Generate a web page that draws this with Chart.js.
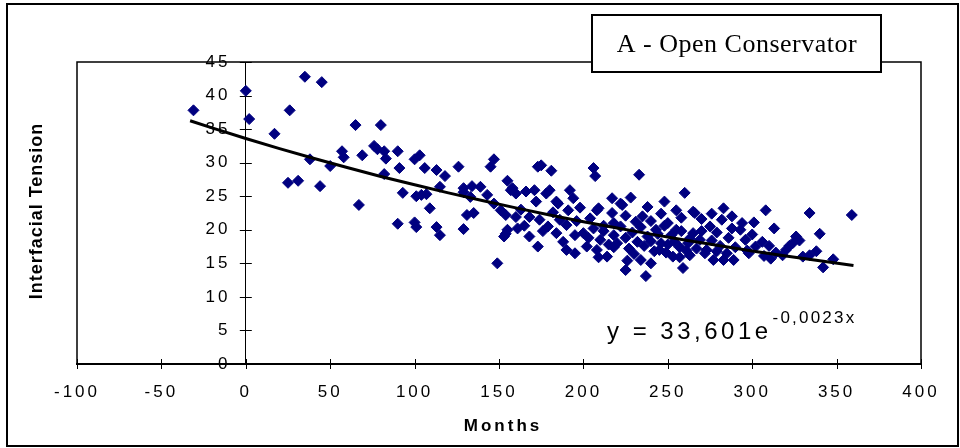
<!DOCTYPE html>
<html>
<head>
<meta charset="utf-8">
<script src="https://cdn.jsdelivr.net/npm/chart.js@4"></script>
<style>
  html, body { margin: 0; padding: 0; background: #fff; }
  #wrap { width: 960px; height: 448px; position: relative; }
</style>
</head>
<body>
<div id="wrap"><canvas id="c" width="960" height="448"></canvas></div>
<script>
// ---- data ----
const months = [
  -31, 0, 2, 17, 26, 25, 31, 35, 38, 45, 44, 50, 57, 58, 65, 67, 69, 76, 78, 80,
  82, 83, 82, 90, 91, 93, 90, 100, 101, 101, 100, 103,
  106, 113, 118, 126, 107, 104, 109, 115, 129, 134, 139, 133, 143, 131, 135, 129, 113, 115,
  147, 145, 149, 147, 129,
  155, 157, 160, 151, 154, 160, 155, 153, 161, 166, 171, 173, 175, 181, 172, 178, 184, 168,
  174, 179, 168, 173, 184, 190, 192, 194, 191, 195, 190, 195, 188, 154, 158, 180, 185, 198,
  163, 186, 176, 196, 182, 165,
  206, 207, 233, 260, 255, 266, 283, 282, 275, 209, 217, 223, 217, 225, 231, 218, 204, 208,
  222, 265, 235, 240, 246, 250, 258, 270, 276, 288, 228, 238, 248, 212,
  243, 255, 263, 200, 203, 206, 210, 212, 215, 218, 220, 222, 225, 227, 229, 232, 234, 236,
  238, 240, 242, 244, 246, 248, 250, 252, 254, 257, 258, 261, 262, 265, 267, 270, 272, 276,
  279, 281, 286, 288, 290, 269, 273,
  225, 237, 234, 240, 259, 253, 245, 214, 208, 202, 277, 283, 285, 209, 226, 257, 249, 230,
  218, 263, 279,
  308, 334, 359, 301, 294, 293, 340, 326, 324, 296, 306, 289, 298, 311, 334, 348, 342, 320,
  322, 307, 297, 300, 310, 314, 318, 330, 302, 328, 338, 313
];
const tension = [
  37.8, 40.7, 36.5, 34.3, 37.8, 27.0, 27.3, 42.8, 30.5, 42.0, 26.5, 29.5, 31.7, 30.8, 35.6, 23.7, 31.1, 32.5, 32.0, 35.6,
  31.7, 30.6, 28.3, 31.7, 29.2, 25.5, 20.9, 21.1, 20.4, 25.0, 30.5, 31.1,
  29.2, 28.9, 28.0, 29.4, 25.3, 25.2, 23.2, 26.4, 26.2, 26.5, 26.4, 24.9, 25.2, 22.2, 22.5, 20.1, 20.4, 19.2,
  30.5, 29.4, 15.0, 23.9, 25.6,
  27.3, 25.9, 25.4, 22.9, 22.2, 21.9, 20.0, 19.0, 20.2, 25.7, 25.9, 29.4, 29.6, 28.8, 24.2, 25.4, 24.2, 21.9,
  21.5, 20.5, 19.0, 17.5, 19.5, 20.7, 25.9, 24.7, 22.9, 19.2, 17.0, 16.5, 18.2, 19.4, 26.2, 25.9, 23.9, 23.3,
  23.0, 21.5, 19.8, 21.3, 22.6, 20.6,
  29.2, 28.0, 28.2, 25.5, 22.9, 22.5, 23.2, 21.5, 20.5, 23.2, 24.7, 23.7, 22.5, 22.1, 21.2, 21.0, 21.7, 22.9,
  23.9, 22.7, 22.0, 21.3, 22.4, 21.0, 21.8, 21.6, 22.4, 22.0, 24.8, 23.4, 24.2, 20.6,
  20.0, 20.0, 18.7, 19.5, 18.8, 20.2, 18.5, 19.8, 17.8, 19.2, 18.0, 20.5, 18.8, 17.2, 19.6, 18.2, 20.4, 17.6,
  19.0, 18.3, 16.8, 19.4, 18.0, 20.6, 17.8, 19.2, 18.2, 17.4, 19.8, 16.9, 18.0, 19.5, 17.2, 19.8, 16.5, 18.4,
  19.6, 17.6, 18.8, 20.2, 17.4, 18.5, 17.0,
  14.0, 13.1, 15.5, 15.0, 14.3, 16.0, 17.0, 16.0, 17.0, 17.5, 15.5, 15.5, 16.5, 15.9, 15.4, 15.9, 16.6, 16.4,
  17.4, 16.2, 16.8,
  22.9, 22.5, 22.2, 21.1, 21.0, 20.0, 19.4, 19.0, 18.0, 18.5, 18.2, 15.5, 16.5, 15.7, 16.2, 15.6, 14.4, 17.0,
  17.6, 16.1, 16.9, 19.3, 17.6, 16.6, 16.2, 16.0, 17.5, 18.4, 16.8, 20.2
];
// exponential trend line y = 33,601e^(-0,0023x), values at these months
const trendMonths = [-33, -20, 0, 20, 40, 60, 80, 100, 120, 140, 160, 180, 200, 220, 240, 260, 280, 300, 320, 340, 360];
const trendValues = [36.25, 35.18, 33.60, 32.09, 30.65, 29.27, 27.95, 26.70, 25.50, 24.35, 23.26, 22.21, 21.21, 20.26, 19.35, 18.48, 17.65, 16.85, 16.10, 15.37, 14.68];
const xTicks = [-100, -50, 0, 50, 100, 150, 200, 250, 300, 350, 400];
const yTicks = [0, 5, 10, 15, 20, 25, 30, 35, 40, 45];
const titleText = 'A - Open Conservator';
const xTitle = 'Months';
const yTitle = 'Interfacial Tension';
const eqMain = 'y = 33,601e';
const eqSup = '-0,0023x';

const scatterPts = months.map((m, i) => ({ x: m, y: tension[i] }));
const trendPts = trendMonths.map((m, i) => ({ x: m, y: trendValues[i] }));

const SANS = 'Arial, "Liberation Sans", sans-serif';

const spacingPlugin = {
  id: 'spacing',
  beforeLayout(chart) { chart.ctx.letterSpacing = '3px'; },
  beforeDraw(chart) { chart.ctx.letterSpacing = '3px'; }
};

const decoPlugin = {
  id: 'deco',
  beforeDatasetsDraw(chart) {
    const ctx = chart.ctx;
    const a = chart.chartArea;
    ctx.save();
    // plot area frame
    ctx.strokeStyle = '#000';
    ctx.lineWidth = 1.5;
    ctx.beginPath();
    ctx.moveTo(a.left, a.bottom);
    ctx.lineTo(a.left, a.top);
    ctx.lineTo(a.right, a.top);
    ctx.lineTo(a.right, a.bottom);
    ctx.stroke();
    // cross tick marks
    const xs = chart.scales.x, ys = chart.scales.y;
    const x0 = xs.getPixelForValue(0);
    ctx.lineWidth = 1;
    ctx.beginPath();
    xs.ticks.forEach(t => {
      const px = Math.round(xs.getPixelForValue(t.value)) + 0.5;
      ctx.moveTo(px, a.bottom - 5);
      ctx.lineTo(px, a.bottom + 5);
    });
    ys.ticks.forEach(t => {
      const py = Math.round(ys.getPixelForValue(t.value)) + 0.5;
      ctx.moveTo(x0 - 6, py);
      ctx.lineTo(x0 + 6, py);
    });
    ctx.stroke();
    ctx.restore();
  },
  afterDraw(chart) {
    const ctx = chart.ctx;
    ctx.save();
    // outer border
    ctx.strokeStyle = '#000';
    ctx.lineWidth = 2;
    ctx.strokeRect(7, 4, 951, 442);
    // title box
    ctx.fillStyle = '#fff';
    ctx.fillRect(592, 15, 289, 57);
    ctx.lineWidth = 2;
    ctx.strokeRect(592, 15, 289, 57);
    ctx.fillStyle = '#000';
    ctx.letterSpacing = '0.5px';
    ctx.font = '26px "Liberation Serif", "Times New Roman", serif';
    ctx.textAlign = 'center';
    ctx.textBaseline = 'alphabetic';
    ctx.fillText(titleText, 737, 52);
    // x title
    ctx.font = 'bold 17px ' + SANS;
    ctx.letterSpacing = '3px';
    ctx.fillText(xTitle, 503, 431);
    // y title
    ctx.save();
    ctx.translate(42, 211);
    ctx.rotate(-Math.PI / 2);
    ctx.font = 'bold 18px ' + SANS;
    ctx.letterSpacing = '1px';
    ctx.fillText(yTitle, 0, 0);
    ctx.restore();
    // equation
    ctx.textAlign = 'left';
    ctx.font = '24px ' + SANS;
    ctx.letterSpacing = '3.5px';
    ctx.fillText(eqMain, 607, 339);
    const w = ctx.measureText(eqMain).width;
    ctx.font = '17px ' + SANS;
    ctx.letterSpacing = '2.2px';
    ctx.fillText(eqSup, 607 + w + 1, 323);
    ctx.restore();
  }
};

new Chart(document.getElementById('c'), {
  type: 'scatter',
  data: {
    datasets: [
      {
        type: 'line',
        label: 'trend',
        data: trendPts,
        borderColor: '#000',
        borderWidth: 3,
        pointRadius: 0,
        fill: false,
        tension: 0,
        order: 0
      },
      {
        label: 'A',
        data: scatterPts,
        pointStyle: 'rectRot',
        pointRadius: 5.5,
        pointHoverRadius: 5.5,
        backgroundColor: '#000080',
        borderColor: '#000080',
        borderWidth: 1,
        order: 1
      }
    ]
  },
  options: {
    responsive: false,
    animation: false,
    events: [],
    layout: { padding: { left: 77, right: 39, top: 62, bottom: 44 } },
    plugins: { legend: { display: false }, tooltip: { enabled: false }, title: { display: false } },
    scales: {
      x: {
        type: 'linear',
        min: -100,
        max: 400,
        afterBuildTicks: s => { s.ticks = xTicks.map(v => ({ value: v })); },
        afterFit: s => { s.height = 40; },
        ticks: { color: '#000', font: { family: SANS, size: 17 }, padding: 18, maxRotation: 0, autoSkip: false },
        grid: { display: true, drawOnChartArea: false, drawTicks: false, color: 'rgba(0,0,0,0)' },
        border: { display: true, color: '#000', width: 2 }
      },
      y: {
        type: 'linear',
        position: { x: 0 },
        min: 0,
        max: 45,
        afterBuildTicks: s => { s.ticks = yTicks.map(v => ({ value: v })); },
        ticks: {
          color: '#000', font: { family: SANS, size: 17 }, autoSkip: false,
          // keep the labels clear of the axis line that crosses at 0
          callback: v => String(v) + '  '
        },
        grid: { display: true, drawOnChartArea: false, drawTicks: false, color: 'rgba(0,0,0,0)' },
        border: { display: true, color: '#000', width: 1 }
      }
    }
  },
  plugins: [spacingPlugin, decoPlugin]
});
</script>
</body>
</html>
